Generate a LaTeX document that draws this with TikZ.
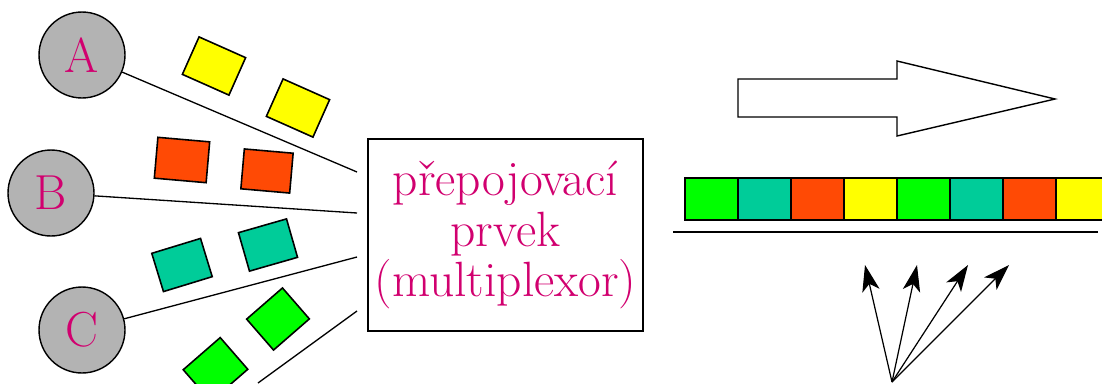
\documentclass[tikz,border=0pt]{standalone}
\usepackage{fontspec}
\newfontfamily\labelserif{Latin Modern Roman}
\usetikzlibrary{arrows.meta}
\definecolor{txtmag}{HTML}{D1006F}
\definecolor{circgray}{HTML}{B3B3B3}
\definecolor{pktyellow}{HTML}{FFFF00}
\definecolor{pktred}{HTML}{FF4A05}
\definecolor{pktteal}{HTML}{00CC99}
\definecolor{pktgreen}{HTML}{00FF00}
\tikzset{
  station/.style={circle, draw=black, line width=0.8pt, fill=circgray,
    minimum size=1.72cm, inner sep=0pt, text=txtmag,
    font=\labelserif\fontsize{28}{28}\selectfont},
  packet/.style={draw=black, line width=0.9pt, inner sep=0pt},
  link/.style={draw=black, line width=0.75pt},
  slot/.style={draw=black, line width=0.9pt, minimum width=1.06cm,
    minimum height=0.84cm, inner sep=0pt, anchor=north west},
  fanarrow/.style={line width=0.7pt, -{Stealth[length=15pt,width=10pt,inset=4pt]}},
}
\begin{document}
\begin{tikzpicture}[x=0.02cm, y=-0.02cm]
\useasboundingbox (0,0) rectangle (1102,383);

% stations
\node[station] (A) at (82,55) {A};
\node[station] (B) at (51,193) {B};
\node[station] (C) at (82,330) {C};

% switching element
\node[draw=black, line width=0.8pt, minimum width=5.5cm, minimum height=3.84cm,
  inner sep=0pt, align=center, text=txtmag,
  font=\labelserif\fontsize{28.2}{28.6}\selectfont] (mux) at (505.5,235)
  {přepojovací\\prvek\\(multiplexor)};

% input lines
\coordinate (a1) at (357,172);
\coordinate (b1) at (357,213);
\coordinate (c1) at (357,257);
\coordinate (d0) at (258,383);
\coordinate (d1) at (357,311);
\draw[link] (A) -- (a1);
\draw[link] (B) -- (b1);
\draw[link] (C) -- (c1);
\draw[link] (d0) -- (d1);

% packets on the inputs
\node[packet, fill=pktyellow, minimum width=1.02cm, minimum height=0.82cm, rotate=-24] (y1) at (214,66) {};
\node[packet, fill=pktyellow, minimum width=1.02cm, minimum height=0.82cm, rotate=-24] (y2) at (298,108) {};
\node[packet, fill=pktred, minimum width=1.04cm, minimum height=0.82cm, rotate=-5] (r1) at (182,160) {};
\node[packet, fill=pktred, minimum width=0.98cm, minimum height=0.80cm, rotate=-5] (r2) at (267,171) {};
\node[packet, fill=pktteal, minimum width=1.02cm, minimum height=0.80cm, rotate=17] (t1) at (182,265) {};
\node[packet, fill=pktteal, minimum width=1.0cm, minimum height=0.80cm, rotate=16] (t2) at (268,245) {};
\node[packet, fill=pktgreen, minimum width=0.95cm, minimum height=0.82cm, rotate=41] (g1) at (278,319) {};
\node[packet, fill=pktgreen, minimum width=0.98cm, minimum height=0.84cm, rotate=41] (g2) at (215.5,369.5) {};

% direction arrow
\draw[line width=0.8pt, fill=white] (738,79) -- (897,79) -- (897,61) -- (1055,99)
  -- (897,136) -- (897,117) -- (738,117) -- cycle;

% multiplexed output stream
\foreach \c [count=\i from 0] in {pktgreen,pktteal,pktred,pktyellow,pktgreen,pktteal,pktred,pktyellow}
  \node[slot, fill=\c] (s\i) at ({684+53*\i},177) {};
\draw[line width=0.8pt] (673,232) -- (1098,232);

% fan of arrows
\coordinate (f0) at (892,382);
\coordinate (f1) at (865,265);
\coordinate (f2) at (917,265);
\coordinate (f3) at (968,265);
\coordinate (f4) at (1009,265);
\foreach \k in {1,2,3,4}
  \draw[fanarrow] (f0) -- (f\k);
\end{tikzpicture}
\end{document}
